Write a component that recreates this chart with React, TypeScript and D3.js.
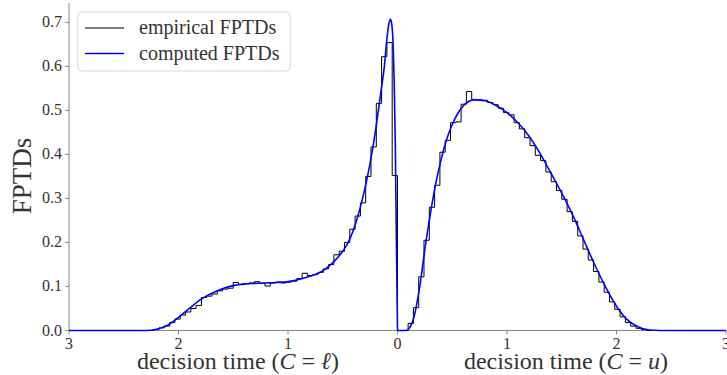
import React, { useEffect, useRef } from 'react';
import * as d3 from 'd3';

// computed FPTD, lower boundary (C = l), plotted at x = -t
const lowerTimes = [0, 0.01, 0.02, 0.03, 0.04, 0.055, 0.065, 0.08, 0.1, 0.12, 0.15, 0.18, 0.2, 0.25, 0.3, 0.35, 0.4, 0.45, 0.5, 0.6, 0.7, 0.8, 0.9, 1.0, 1.1, 1.2, 1.3, 1.4, 1.5, 1.6, 1.7, 1.8, 1.9, 2.0, 2.1, 2.2, 2.3, 3.0];
const lowerDensity = [0, 0.2, 0.42, 0.56, 0.65, 0.7, 0.707, 0.695, 0.655, 0.6, 0.545, 0.49, 0.455, 0.38, 0.32, 0.27, 0.23, 0.2, 0.18, 0.152, 0.133, 0.123, 0.116, 0.111, 0.109, 0.108, 0.107, 0.106, 0.102, 0.095, 0.084, 0.07, 0.05, 0.03, 0.012, 0.003, 0, 0];

// computed FPTD, upper boundary (C = u)
const upperTimes = [0, 0.08, 0.1, 0.15, 0.2, 0.25, 0.3, 0.35, 0.4, 0.45, 0.5, 0.55, 0.6, 0.7, 0.8, 0.9, 1.0, 1.1, 1.2, 1.3, 1.4, 1.5, 1.6, 1.7, 1.8, 1.9, 2.0, 2.1, 2.2, 2.3, 2.4, 3.0];
const upperDensity = [0, 0, 0.003, 0.03, 0.095, 0.185, 0.265, 0.335, 0.39, 0.435, 0.468, 0.493, 0.51, 0.524, 0.522, 0.511, 0.495, 0.472, 0.442, 0.403, 0.358, 0.312, 0.262, 0.206, 0.15, 0.099, 0.055, 0.024, 0.008, 0.001, 0, 0];

// empirical histograms (bin width 0.0484, starting at t = 0)
const binWidth = 0.0484;
const lowerHist = [0.352, 0.654, 0.622, 0.516, 0.417, 0.35, 0.29, 0.26, 0.23, 0.2, 0.18, 0.172, 0.15, 0.14, 0.132, 0.127, 0.125, 0.13, 0.118, 0.112, 0.11, 0.108, 0.11, 0.108, 0.101, 0.107, 0.111, 0.108, 0.106, 0.104, 0.109, 0.096, 0.094, 0.09, 0.083, 0.078, 0.075, 0.057, 0.05, 0.042, 0.035, 0.026, 0.018, 0.01, 0.006, 0.002, 0];
const upperHist = [0, 0, 0.016, 0.052, 0.122, 0.205, 0.28, 0.33, 0.405, 0.432, 0.472, 0.474, 0.514, 0.543, 0.525, 0.524, 0.523, 0.518, 0.513, 0.505, 0.495, 0.49, 0.472, 0.458, 0.438, 0.42, 0.398, 0.386, 0.36, 0.338, 0.318, 0.298, 0.27, 0.248, 0.215, 0.185, 0.16, 0.134, 0.11, 0.087, 0.065, 0.048, 0.031, 0.018, 0.01, 0.005, 0.002, 0];

const xTicks = [-3, -2, -1, 0, 1, 2, 3];
const yTicks = [0, 0.1, 0.2, 0.3, 0.4, 0.5, 0.6, 0.7];
const legendItems = [
  { label: 'empirical FPTDs', color: '#555' },
  { label: 'computed FPTDs', color: '#0000ff' },
];

const FONT = '"Liberation Serif", "Times New Roman", serif';

function stepPoints(values: number[], sign: number): [number, number][] {
  const pts: [number, number][] = [[0, 0]];
  values.forEach((v, i) => {
    pts.push([sign * i * binWidth, v]);
    pts.push([sign * (i + 1) * binWidth, v]);
  });
  pts.push([sign * values.length * binWidth, 0]);
  return pts;
}

function FptdChart() {
  const svgRef = useRef<SVGSVGElement>(null);
  const width = 727;
  const height = 375;

  useEffect(() => {
    const svg = d3.select(svgRef.current);
    svg.selectAll('*').remove();

    const x = d3.scaleLinear().domain([-3, 3]).range([69, 726]);
    const y = d3.scaleLinear().domain([0, 0.744]).range([330.5, 3]);

    // spines
    svg.append('line')
      .attr('x1', x(-3)).attr('x2', x(-3))
      .attr('y1', y(0)).attr('y2', y(0.744))
      .attr('stroke', '#888').attr('stroke-width', 1);
    svg.append('line')
      .attr('x1', x(-3)).attr('x2', x(3))
      .attr('y1', y(0)).attr('y2', y(0))
      .attr('stroke', '#888').attr('stroke-width', 1);

    // y ticks
    const yt = svg.append('g');
    yTicks.forEach(t => {
      yt.append('line')
        .attr('x1', x(-3) - 4).attr('x2', x(-3))
        .attr('y1', y(t)).attr('y2', y(t))
        .attr('stroke', '#888');
      yt.append('text')
        .attr('x', x(-3) - 7)
        .attr('y', y(t) + 5)
        .attr('text-anchor', 'end')
        .attr('font-family', FONT)
        .attr('font-size', 16)
        .attr('fill', '#333')
        .text(t.toFixed(1));
    });

    // x ticks
    const xt = svg.append('g');
    xTicks.forEach(t => {
      xt.append('line')
        .attr('x1', x(t)).attr('x2', x(t))
        .attr('y1', y(0)).attr('y2', y(0) + 4)
        .attr('stroke', '#888');
      xt.append('text')
        .attr('x', x(t))
        .attr('y', 349)
        .attr('text-anchor', 'middle')
        .attr('font-family', FONT)
        .attr('font-size', 16)
        .attr('fill', '#333')
        .text(String(Math.abs(t)));
    });

    // histograms
    const line = d3.line<[number, number]>()
      .x(d => x(d[0]))
      .y(d => y(d[1]));

    svg.append('path')
      .attr('d', line(stepPoints(lowerHist, -1)))
      .attr('fill', 'none')
      .attr('stroke', '#000')
      .attr('stroke-width', 1);
    svg.append('path')
      .attr('d', line(stepPoints(upperHist, 1)))
      .attr('fill', 'none')
      .attr('stroke', '#000')
      .attr('stroke-width', 1);

    // computed densities
    const lowerPts: [number, number][] = lowerTimes.map((t, i) => [x(-t), y(lowerDensity[i])]);
    lowerPts.reverse();
    const upperPts: [number, number][] = upperTimes.map((t, i) => [x(t), y(upperDensity[i])]);

    const pathGen = d3.line<[number, number]>().curve(d3.curveMonotoneX);
    svg.append('path')
      .attr('d', pathGen(lowerPts))
      .attr('fill', 'none')
      .attr('stroke', '#0000ff')
      .attr('stroke-width', 1.6);
    svg.append('path')
      .attr('d', pathGen(upperPts))
      .attr('fill', 'none')
      .attr('stroke', '#0000ff')
      .attr('stroke-width', 1.6);

    // axis labels
    svg.append('text')
      .attr('x', 238).attr('y', 369)
      .attr('text-anchor', 'middle')
      .attr('font-family', FONT)
      .attr('font-size', 24)
      .attr('fill', '#333')
      .html('decision time (<tspan font-style="italic">C</tspan> = <tspan font-style="italic">ℓ</tspan>)');
    svg.append('text')
      .attr('x', 566).attr('y', 369)
      .attr('text-anchor', 'middle')
      .attr('font-family', FONT)
      .attr('font-size', 24)
      .attr('fill', '#333')
      .html('decision time (<tspan font-style="italic">C</tspan> = <tspan font-style="italic">u</tspan>)');
    svg.append('text')
      .attr('transform', 'translate(31,176) rotate(-90)')
      .attr('text-anchor', 'middle')
      .attr('font-family', FONT)
      .attr('font-size', 27)
      .attr('fill', '#333')
      .text('FPTDs');

    // legend
    const lg = svg.append('g');
    lg.append('rect')
      .attr('x', 78).attr('y', 12)
      .attr('width', 212).attr('height', 59)
      .attr('rx', 4)
      .attr('fill', 'rgba(255,255,255,0.8)')
      .attr('stroke', '#d6d6d6');
    legendItems.forEach((item, i) => {
      const cy = 28 + i * 25.5;
      lg.append('line')
        .attr('x1', 85).attr('x2', 124)
        .attr('y1', cy).attr('y2', cy)
        .attr('stroke', item.color)
        .attr('stroke-width', 1.6);
      lg.append('text')
        .attr('x', 139).attr('y', cy + 6)
        .attr('font-family', FONT)
        .attr('font-size', 20)
        .attr('fill', '#333')
        .text(item.label);
    });
  }, []);

  return (
    <svg
      ref={svgRef}
      width={width}
      height={height}
      style={{ position: 'absolute', left: 0, top: 0, background: '#fff' }}
    ></svg>
  );
}

export default function App() {
  return <FptdChart />;
}
